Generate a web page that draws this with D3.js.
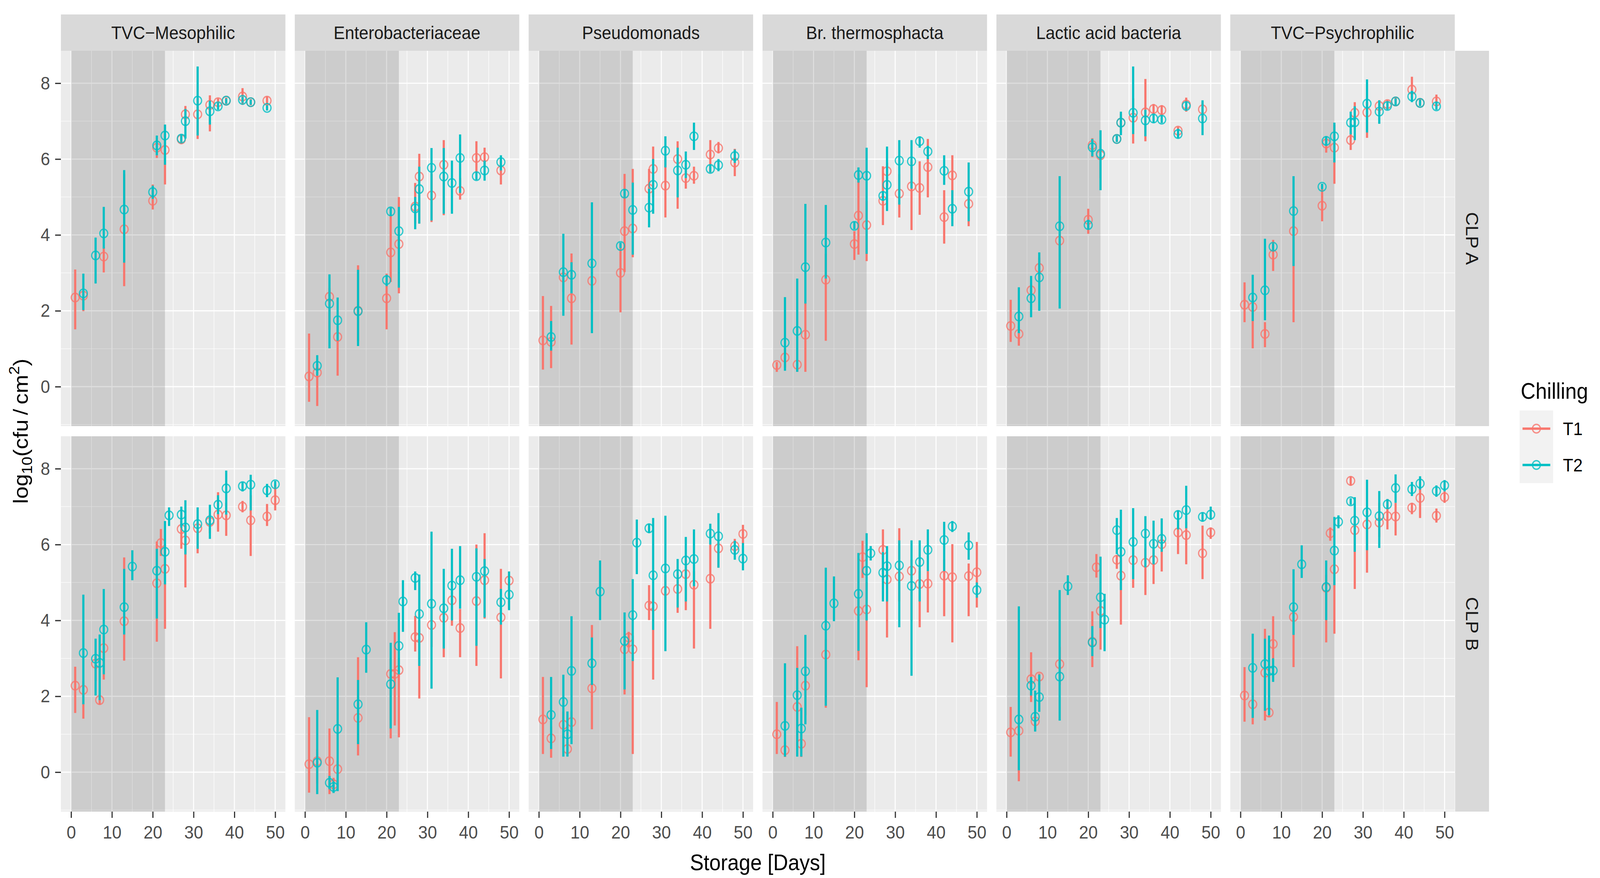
<!DOCTYPE html>
<html>
<head>
<meta charset="utf-8">
<script src="https://cdn.jsdelivr.net/npm/d3@7"></script>
<style>
  html, body { margin: 0; padding: 0; background: #fff; overflow: hidden; }
  #chart svg { display: block; }
  text { font-family: "Liberation Sans", Arial, sans-serif; }
</style>
</head>
<body>
<div id="chart"></div>
<script>
// facet labels and legend
const organisms = ["TVC\u2212Mesophilic", "Enterobacteriaceae", "Pseudomonads",
  "Br. thermosphacta", "Lactic acid bacteria", "TVC\u2212Psychrophilic"];
const plants = ["CLP A", "CLP B"];
const chilling = ["T1", "T2"];
const xTicks = [0, 10, 20, 30, 40, 50];
const yTicks = [0, 2, 4, 6, 8];
const shadeDays = [0, 23];

// each row: [day, mean, low, high]  (log10 cfu/cm2)
const mesoA_T1 = [[1,2.35,1.51,3.09],[3,2.40,1.99,2.5],[8,3.43,3.01,3.68],[13,4.15,2.65,5.6],[20,4.9,4.67,5.33],[21,6.3,6.03,6.5],[23,6.24,5.33,6.9],[27,6.52,6.4,6.62],[28,7.18,6.9,7.4],[31,7.18,6.53,7.6],[34,7.43,6.73,7.68],[36,7.5,7.4,7.6],[38,7.54,7.45,7.62],[42,7.65,7.43,7.87],[44,7.5,7.42,7.58],[48,7.54,7.43,7.65]];
const mesoA_T2 = [[3,2.46,2.02,2.98],[6,3.46,2.72,3.93],[8,4.04,3.64,4.74],[13,4.67,3.27,5.71],[20,5.13,4.95,5.3],[21,6.36,6.1,6.62],[23,6.62,5.85,6.91],[27,6.54,6.45,6.65],[28,7.0,6.54,7.32],[31,7.54,6.62,8.44],[34,7.26,6.91,7.54],[36,7.39,7.3,7.48],[38,7.54,7.46,7.6],[42,7.56,7.48,7.64],[44,7.5,7.43,7.57],[48,7.35,7.28,7.42]];
const enteroA_T1 = [[1,0.27,-0.4,1.4],[3,0.37,-0.51,0.6],[6,2.37,1.5,2.6],[8,1.31,0.29,1.6],[13,2.0,1.2,3.2],[20,2.33,1.51,2.98],[21,3.54,2.76,4.52],[23,3.76,2.46,5.0],[27,4.75,4.3,5.37],[28,5.54,4.3,6.14],[31,5.04,4.34,5.6],[34,5.85,4.52,6.5],[38,5.16,4.93,5.5],[42,6.03,5.63,6.47],[44,6.05,5.75,6.3],[48,5.7,5.33,6.03]];
const enteroA_T2 = [[3,0.55,0.29,0.83],[6,2.19,1.01,2.96],[8,1.75,1.21,2.35],[13,1.99,1.07,3.08],[20,2.81,2.65,2.95],[21,4.62,4.5,4.72],[23,4.1,2.61,4.74],[27,4.7,4.15,5.0],[28,5.21,4.3,5.8],[31,5.77,4.38,6.29],[34,5.54,4.56,6.29],[36,5.37,4.56,5.96],[38,6.03,5.11,6.65],[42,5.55,5.45,5.65],[44,5.7,5.43,5.96],[48,5.92,5.7,6.1]];
const pseudoA_T1 = [[1,1.22,0.45,2.39],[3,1.18,0.49,2.13],[6,2.88,2.5,3.2],[8,2.33,1.11,3.51],[13,2.79,2.2,3.3],[20,3.0,1.96,3.77],[21,4.1,3.02,5.61],[23,4.17,3.41,5.74],[27,5.22,4.7,5.74],[28,5.74,5.0,6.33],[31,5.3,4.46,6.0],[34,6.0,4.69,6.47],[36,5.5,5.22,5.8],[38,5.56,5.35,5.8],[42,6.12,5.64,6.5],[44,6.29,6.15,6.45],[48,5.91,5.55,6.27]];
const pseudoA_T2 = [[3,1.31,0.95,1.73],[6,3.02,1.87,4.03],[8,2.95,2.46,3.28],[13,3.25,1.41,4.86],[20,3.71,3.65,3.8],[21,5.09,5.0,5.2],[23,4.66,3.48,5.38],[27,4.72,4.2,5.22],[28,5.32,4.56,6.0],[31,6.22,5.78,6.6],[34,5.7,4.99,6.3],[36,5.85,5.5,6.2],[38,6.6,6.24,6.96],[42,5.74,5.65,5.85],[44,5.84,5.68,6.0],[48,6.08,5.9,6.25]];
const brochoA_T1 = [[1,0.57,0.39,0.65],[3,0.77,0.5,1.0],[6,0.58,0.39,0.7],[8,1.37,0.39,2.2],[13,2.82,1.21,3.5],[20,3.76,3.34,4.1],[21,4.51,3.48,5.61],[23,4.26,3.31,4.9],[27,4.9,4.26,5.81],[28,5.68,5.3,5.9],[31,5.09,4.46,5.6],[34,5.28,4.13,5.94],[36,5.24,4.53,5.94],[38,5.79,4.99,6.53],[42,4.47,3.77,5.18],[44,5.57,4.5,6.1],[48,4.82,4.23,5.2]];
const brochoA_T2 = [[3,1.16,0.42,2.36],[6,1.47,0.39,2.85],[8,3.15,2.19,4.82],[13,3.8,2.85,4.79],[20,4.24,4.15,4.35],[21,5.58,5.38,5.78],[23,5.56,3.5,6.3],[27,5.03,4.9,5.15],[28,5.32,4.63,6.33],[31,5.96,4.8,6.5],[34,5.94,5.22,6.5],[36,6.47,6.3,6.6],[38,6.2,6.0,6.35],[42,5.69,5.32,6.1],[44,4.69,4.23,5.18],[48,5.14,4.36,5.91]];
const labA_T1 = [[1,1.6,1.18,2.29],[3,1.39,1.08,1.6],[6,2.54,2.3,2.7],[8,3.13,2.8,3.4],[13,3.85,3.0,4.5],[20,4.4,4.03,4.69],[21,6.37,6.05,6.55],[23,6.1,5.5,6.5],[27,6.53,6.45,6.6],[28,6.96,6.7,7.2],[31,7.09,6.41,7.6],[34,7.23,6.47,8.11],[36,7.32,7.15,7.45],[38,7.29,7.15,7.42],[42,6.75,6.6,6.85],[44,7.44,7.25,7.62],[48,7.31,7.0,7.5]];
const labA_T2 = [[3,1.85,1.41,2.62],[6,2.33,1.83,2.92],[8,2.88,2.0,3.54],[13,4.23,2.06,5.55],[20,4.26,4.15,4.4],[21,6.31,6.07,6.53],[23,6.14,5.18,6.76],[27,6.53,6.45,6.62],[28,6.96,6.63,7.25],[31,7.22,6.66,8.44],[34,7.02,6.6,7.3],[36,7.07,6.95,7.2],[38,7.04,6.95,7.15],[42,6.66,6.55,6.8],[44,7.4,7.3,7.5],[48,7.07,6.63,7.55]];
const psychA_T1 = [[1,2.16,1.7,2.75],[3,2.1,1.01,2.3],[6,1.39,1.04,1.7],[8,3.48,3.05,3.87],[13,4.1,1.7,4.8],[20,4.77,4.36,5.22],[21,6.41,6.17,6.6],[23,6.3,5.35,6.9],[27,6.5,6.24,6.8],[28,7.22,6.8,7.5],[31,7.23,6.56,7.5],[34,7.4,7.2,7.55],[36,7.45,7.35,7.55],[38,7.52,7.4,7.62],[42,7.83,7.55,8.17],[44,7.48,7.4,7.58],[48,7.52,7.4,7.7]];
const psychA_T2 = [[3,2.35,1.73,2.95],[6,2.54,1.75,3.9],[8,3.69,3.6,3.78],[13,4.63,3.18,5.55],[20,5.27,5.2,5.35],[21,6.48,6.35,6.6],[23,6.6,5.91,6.96],[27,6.96,6.65,7.25],[28,6.97,6.5,7.39],[31,7.46,6.7,8.1],[34,7.25,6.93,7.55],[36,7.4,7.3,7.5],[38,7.52,7.42,7.6],[42,7.65,7.5,7.8],[44,7.48,7.4,7.56],[48,7.39,7.3,7.5]];

const mesoB_T1 = [[1,2.28,1.56,2.78],[3,2.17,1.41,2.4],[6,2.86,2.4,3.1],[7,1.9,1.78,2.05],[8,3.27,2.44,3.6],[13,3.98,2.94,5.66],[21,4.98,3.44,6.08],[22,6.04,5.7,6.41],[23,5.36,3.78,6.0],[27,6.41,5.89,6.64],[28,6.11,4.87,6.5],[31,6.43,5.77,6.6],[34,6.6,6.3,6.8],[36,6.79,6.34,7.38],[38,6.77,6.23,7.1],[42,7.0,6.85,7.15],[44,6.64,5.7,7.3],[48,6.74,6.49,7.07],[50,7.17,6.9,7.58]];
const mesoB_T2 = [[3,3.14,1.79,4.68],[6,2.99,2.02,3.52],[7,2.88,1.9,3.63],[8,3.76,2.58,4.83],[13,4.35,3.63,5.36],[15,5.42,5.06,5.85],[21,5.31,4.05,5.89],[23,5.81,4.95,6.62],[24,6.77,6.49,6.98],[27,6.79,6.45,7.0],[28,6.45,5.74,7.17],[31,6.54,5.89,6.98],[34,6.64,6.15,7.05],[36,7.05,6.8,7.3],[38,7.48,6.79,7.95],[42,7.54,7.4,7.65],[44,7.58,6.9,7.84],[48,7.43,7.25,7.6],[50,7.59,7.5,7.68]];
const enteroB_T1 = [[1,0.21,-0.54,1.45],[3,0.29,-0.3,0.6],[6,0.29,-0.58,1.15],[7,-0.32,-0.5,-0.15],[8,0.08,-0.4,0.3],[13,1.43,0.44,3.03],[21,2.59,0.89,3.0],[22,2.59,1.23,3.69],[23,2.69,0.92,3.0],[27,3.56,3.18,4.12],[28,3.54,1.94,4.0],[31,3.88,3.3,4.3],[34,4.07,3.03,4.5],[36,4.53,3.86,4.8],[38,3.8,3.03,4.3],[42,4.51,2.8,6.0],[44,5.06,4.05,6.3],[48,4.08,2.47,5.36],[50,5.05,4.3,5.29]];
const enteroB_T2 = [[3,0.25,-0.58,1.64],[6,-0.28,-0.45,-0.1],[7,-0.39,-0.55,-0.25],[8,1.14,-0.5,2.5],[13,1.79,0.74,2.43],[15,3.23,2.62,3.95],[21,2.32,1.15,3.41],[23,3.33,2.58,4.2],[24,4.5,3.7,5.06],[27,5.12,4.8,5.29],[28,4.17,2.8,5.21],[31,4.44,2.2,6.34],[34,4.32,3.26,5.36],[36,4.92,4.0,5.89],[38,5.06,4.31,5.96],[42,5.15,3.33,5.9],[44,5.3,4.08,5.62],[48,4.48,3.89,4.83],[50,4.68,4.27,5.29]];
const pseudoB_T1 = [[1,1.39,0.48,2.51],[3,0.89,0.38,1.2],[6,1.25,0.9,1.6],[7,0.61,0.45,0.8],[8,1.32,0.9,1.6],[13,2.21,1.13,3.88],[21,3.24,2.05,3.6],[22,3.55,3.3,3.7],[23,3.24,0.48,3.6],[27,4.39,4.01,4.93],[28,4.37,2.44,4.8],[31,4.78,4.0,5.2],[34,4.83,4.2,5.2],[36,5.22,4.27,5.6],[38,4.94,3.26,5.3],[42,5.1,3.78,6.0],[44,5.9,5.39,6.1],[48,5.96,5.75,6.15],[50,6.28,6.0,6.52]];
const pseudoB_T2 = [[3,1.51,0.61,2.51],[6,1.85,0.41,2.57],[7,1.0,0.41,1.6],[8,2.67,0.74,4.11],[13,2.87,2.3,3.55],[15,4.76,4.01,5.58],[21,3.46,2.18,4.21],[23,4.14,2.93,5.09],[24,6.05,5.22,6.66],[27,6.43,6.3,6.55],[28,5.19,3.75,6.7],[31,5.37,3.19,6.76],[34,5.22,4.34,5.62],[36,5.58,4.5,6.2],[38,5.62,4.9,6.4],[42,6.29,6.0,6.55],[44,6.22,5.39,6.83],[48,5.86,5.6,6.1],[50,5.63,5.32,6.04]];
const brochoB_T1 = [[1,1.0,0.48,1.85],[3,0.58,0.4,0.8],[6,1.72,0.7,3.32],[7,0.75,0.4,1.0],[8,2.28,1.5,2.8],[13,3.1,1.7,3.5],[21,4.25,2.95,4.6],[22,5.67,5.12,6.1],[23,4.29,2.24,5.0],[27,5.86,5.3,6.4],[28,5.08,3.55,5.5],[31,5.16,4.5,6.43],[34,5.31,4.0,5.6],[36,4.96,3.82,5.3],[38,4.97,4.21,5.3],[42,5.18,4.11,5.6],[44,5.14,3.42,6.01],[48,5.17,4.11,5.5],[50,5.27,4.34,6.07]];
const brochoB_T2 = [[3,1.22,0.41,2.87],[6,2.03,0.41,2.75],[7,1.15,0.41,1.7],[8,2.66,1.26,3.62],[13,3.86,1.75,5.39],[15,4.45,3.98,5.16],[21,4.7,3.2,5.78],[23,5.31,4.0,6.3],[24,5.77,5.58,5.96],[27,5.26,4.5,5.8],[28,5.43,4.5,5.96],[31,5.45,3.82,6.11],[34,4.91,2.54,6.11],[36,5.54,4.5,6.11],[38,5.86,5.3,6.4],[42,6.12,5.3,6.6],[44,6.48,6.33,6.62],[48,5.98,5.6,6.32],[50,4.8,4.6,5.0]];
const labB_T1 = [[1,1.05,0.41,1.72],[3,1.09,-0.24,1.3],[6,2.45,1.85,3.16],[7,1.34,1.1,1.6],[8,2.52,2.3,2.6],[13,2.85,2.3,3.3],[21,3.44,2.77,4.24],[22,5.4,5.13,5.75],[23,4.25,3.23,4.7],[27,5.6,5.36,5.72],[28,5.18,3.89,5.6],[31,5.59,4.86,5.9],[34,5.52,4.67,5.9],[36,5.59,4.96,5.9],[38,6.01,5.29,6.3],[42,6.32,5.75,6.7],[44,6.25,5.48,6.6],[48,5.77,5.09,6.5],[50,6.32,6.15,6.45]];
const labB_T2 = [[3,1.39,0.05,4.37],[6,2.28,2.02,2.51],[7,1.46,1.07,2.15],[8,1.98,1.59,2.57],[13,2.52,1.36,4.8],[15,4.9,4.67,5.19],[21,3.42,3.06,3.85],[23,4.61,3.8,5.68],[24,4.02,3.19,4.7],[27,6.38,5.75,6.7],[28,5.81,4.8,6.92],[31,6.07,5.09,6.96],[34,6.29,5.4,6.75],[36,6.02,5.48,6.63],[38,6.15,5.81,6.69],[42,6.78,6.4,6.9],[44,6.91,6.43,7.55],[48,6.73,6.6,6.85],[50,6.79,6.65,7.0]];
const psychB_T1 = [[1,2.02,1.33,2.77],[3,1.79,1.26,2.1],[6,2.62,1.36,3.78],[7,1.57,1.45,1.7],[8,3.38,2.5,4.11],[13,4.09,2.77,4.4],[21,4.86,3.42,5.2],[22,6.3,6.1,6.45],[23,5.35,3.65,5.9],[27,7.68,7.55,7.8],[28,6.38,4.83,6.8],[31,6.53,5.26,6.9],[34,6.58,6.2,7.1],[36,6.75,6.4,7.2],[38,6.74,6.24,7.1],[42,6.97,6.8,7.1],[44,7.23,6.7,7.5],[48,6.76,6.58,6.95],[50,7.25,7.1,7.4]];
const psychB_T2 = [[3,2.75,1.43,3.65],[6,2.85,1.62,3.52],[7,2.67,1.5,3.6],[8,2.68,2.38,3.0],[13,4.35,3.62,5.35],[15,5.48,5.12,5.98],[21,4.88,4.01,5.58],[23,5.84,4.93,6.73],[24,6.6,6.43,6.77],[27,7.14,7.05,7.22],[28,6.63,5.81,7.25],[31,6.85,5.85,7.71],[34,6.75,5.91,7.41],[36,7.06,6.95,7.2],[38,7.49,7.1,7.85],[42,7.46,7.28,7.65],[44,7.61,7.45,7.8],[48,7.41,7.26,7.56],[50,7.56,7.4,7.7]];

// which arrays go in which facet: rows = plant, cols = organism
const facetData = [
  [[mesoA_T1, mesoA_T2], [enteroA_T1, enteroA_T2], [pseudoA_T1, pseudoA_T2],
   [brochoA_T1, brochoA_T2], [labA_T1, labA_T2], [psychA_T1, psychA_T2]],
  [[mesoB_T1, mesoB_T2], [enteroB_T1, enteroB_T2], [pseudoB_T1, pseudoB_T2],
   [brochoB_T1, brochoB_T2], [labB_T1, labB_T2], [psychB_T1, psychB_T2]]
];

// drawing is done in a 4440x2248 coordinate box, scaled to whatever the window is
const width = 4440, height = 2248;
const colors = d3.scaleOrdinal().domain(chilling).range(["#F8766D", "#00BFC4"]);

// panel layout
const panelW = 623, panelStep = 649, left0 = 169;
const rowTop = [130, 1117], panelH = 961;
const stripH = 93, stripW = 94;

const x = d3.scaleLinear().domain([-2.5, 52.5]).range([0, panelW]);
const y = d3.scaleLinear().domain([-1.04, 8.855]).range([panelH, 0]);

const xMinor = xTicks.slice(1).map((d, i) => (d + xTicks[i]) / 2);
const yMinor = d3.range(-1, 9, 2).filter(d => d >= y.domain()[0] && d <= y.domain()[1]);

const svg = d3.select("#chart")
  .append("svg")
  .attr("viewBox", `0 0 ${width} ${height}`)
  .attr("preserveAspectRatio", "none")
  .attr("width", window.innerWidth || width)
  .attr("height", window.innerHeight || height);

svg.append("rect").attr("width", width).attr("height", height).attr("fill", "#fff");

// top strips
organisms.forEach((name, c) => {
  const g = svg.append("g").attr("transform", `translate(${left0 + c * panelStep},${rowTop[0] - stripH})`);
  g.append("rect").attr("width", panelW).attr("height", stripH).attr("fill", "#D9D9D9");
  g.append("text")
    .attr("x", panelW / 2).attr("y", stripH / 2).attr("dy", "0.36em")
    .attr("text-anchor", "middle")
    .attr("font-size", 47).attr("fill", "#1A1A1A")
    .text(name);
});

// right strips
plants.forEach((name, r) => {
  const sx = left0 + 5 * panelStep + panelW + 1;
  const g = svg.append("g").attr("transform", `translate(${sx},${rowTop[r]})`);
  g.append("rect").attr("width", stripW).attr("height", panelH).attr("fill", "#D9D9D9");
  g.append("text")
    .attr("transform", `translate(${stripW / 2},${panelH / 2}) rotate(90)`)
    .attr("dy", "0.36em")
    .attr("text-anchor", "middle")
    .attr("font-size", 48).attr("fill", "#1A1A1A")
    .text(name);
});

// panels
facetData.forEach((row, r) => {
  row.forEach((pair, c) => {
    const g = svg.append("g").attr("transform", `translate(${left0 + c * panelStep},${rowTop[r]})`);

    g.append("rect").attr("width", panelW).attr("height", panelH).attr("fill", "#EBEBEB");

    // grid
    g.selectAll(".ymin").data(yMinor).enter().append("line")
      .attr("x1", 0).attr("x2", panelW)
      .attr("y1", d => y(d)).attr("y2", d => y(d))
      .attr("stroke", "#fff").attr("stroke-width", 1.4);
    g.selectAll(".xmin").data(xMinor).enter().append("line")
      .attr("y1", 0).attr("y2", panelH)
      .attr("x1", d => x(d)).attr("x2", d => x(d))
      .attr("stroke", "#fff").attr("stroke-width", 1.4);
    g.selectAll(".ymaj").data(yTicks).enter().append("line")
      .attr("x1", 0).attr("x2", panelW)
      .attr("y1", d => y(d)).attr("y2", d => y(d))
      .attr("stroke", "#fff").attr("stroke-width", 2.8);
    g.selectAll(".xmaj").data(xTicks).enter().append("line")
      .attr("y1", 0).attr("y2", panelH)
      .attr("x1", d => x(d)).attr("x2", d => x(d))
      .attr("stroke", "#fff").attr("stroke-width", 2.8);

    // storage period shading
    g.append("rect")
      .attr("x", x(shadeDays[0])).attr("width", x(shadeDays[1]) - x(shadeDays[0]))
      .attr("y", 0).attr("height", panelH)
      .attr("fill", "#000").attr("opacity", 0.13);

    // ranges + points, T1 first then T2
    pair.forEach((vals, k) => {
      const col = colors(chilling[k]);
      g.selectAll(".rng" + k).data(vals).enter().append("line")
        .attr("x1", d => x(d[0])).attr("x2", d => x(d[0]))
        .attr("y1", d => y(d[2])).attr("y2", d => y(d[3]))
        .attr("stroke", col).attr("stroke-width", 6);
      g.selectAll(".pt" + k).data(vals).enter().append("circle")
        .attr("cx", d => x(d[0])).attr("cy", d => y(d[1]))
        .attr("r", 11)
        .attr("fill", "none").attr("stroke", col).attr("stroke-width", 3.4)
        .attr("opacity", 0.8);
    });

    // axes
    if (c === 0) {
      const ax = g.append("g")
        .call(d3.axisLeft(y).tickValues(yTicks).tickSize(16).tickPadding(14).tickFormat(d3.format("d")));
      styleAxis(ax);
    }
    if (r === 1) {
      const ax = g.append("g")
        .attr("transform", `translate(0,${panelH})`)
        .call(d3.axisBottom(x).tickValues(xTicks).tickSize(16).tickPadding(20).tickFormat(d3.format("d")));
      styleAxis(ax);
    }
  });
});

function styleAxis(ax) {
  ax.select(".domain").remove();
  ax.selectAll(".tick line").attr("stroke", "#333333").attr("stroke-width", 3.2);
  ax.selectAll(".tick text")
    .attr("fill", "#4D4D4D")
    .attr("font-size", 47)
    .attr("font-family", "Liberation Sans, Arial, sans-serif");
}

// axis titles
const plotCenterX = left0 + (5 * panelStep + panelW) / 2;
svg.append("text")
  .attr("x", plotCenterX).attr("y", 2228)
  .attr("text-anchor", "middle")
  .attr("font-size", 57).attr("fill", "#000")
  .text("Storage [Days]");

const yTitle = svg.append("text")
  .attr("transform", `translate(77,${(rowTop[0] + rowTop[1] + panelH) / 2}) rotate(-90)`)
  .attr("text-anchor", "middle")
  .attr("font-size", 57).attr("fill", "#000");
yTitle.append("tspan").text("log");
yTitle.append("tspan").attr("font-size", 40).attr("dy", 12).text("10");
yTitle.append("tspan").attr("dy", -12).text("(cfu\u2009/\u2009cm");
yTitle.append("tspan").attr("font-size", 40).attr("dy", -24).text("2");
yTitle.append("tspan").attr("dy", 24).text(")");

// legend
const legend = svg.append("g").attr("transform", "translate(4217,1051)");
legend.append("text")
  .attr("x", 3).attr("y", -30)
  .attr("font-size", 57).attr("fill", "#000")
  .text("Chilling");
const keySize = 93;
const keys = legend.selectAll(".key").data(chilling).enter().append("g")
  .attr("transform", (d, i) => `translate(0,${i * keySize})`);
keys.append("rect").attr("width", keySize).attr("height", keySize).attr("fill", "#F2F2F2");
keys.append("line")
  .attr("x1", 8).attr("x2", keySize - 8)
  .attr("y1", keySize / 2).attr("y2", keySize / 2)
  .attr("stroke", d => colors(d)).attr("stroke-width", 6);
keys.append("circle")
  .attr("cx", keySize / 2).attr("cy", keySize / 2).attr("r", 11)
  .attr("fill", "none").attr("stroke", d => colors(d)).attr("stroke-width", 3.4)
  .attr("opacity", 0.8);
keys.append("text")
  .attr("x", keySize + 27).attr("y", keySize / 2).attr("dy", "0.36em")
  .attr("font-size", 47).attr("fill", "#000")
  .text(d => d);
</script>
</body>
</html>
